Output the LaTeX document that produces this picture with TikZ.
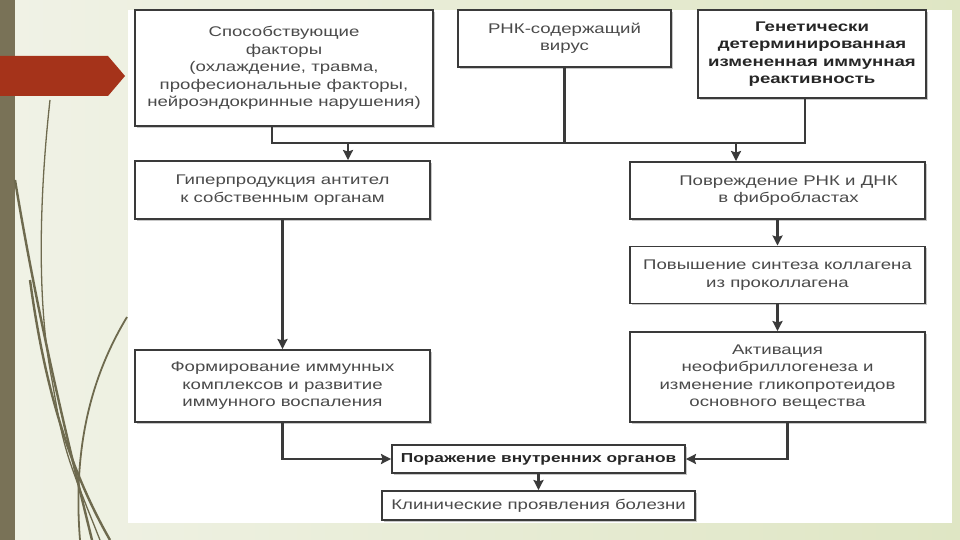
\documentclass[tikz,border=0pt]{standalone}
\usepackage{fontspec}
\newfontfamily\slidefont{Liberation Sans}[FakeStretch=1.33]
\usetikzlibrary{arrows.meta,shadows}
\definecolor{bgleft}{HTML}{F0F2E6}
\definecolor{bgright}{HTML}{DFE6C4}
\definecolor{stripe}{HTML}{797257}
\definecolor{tagred}{HTML}{A5331A}
\definecolor{deco}{HTML}{6E6A4E}
\definecolor{boxline}{HTML}{3A3A3A}
\definecolor{textgrey}{HTML}{4A4A4A}
\begin{document}
\begin{tikzpicture}[x=1pt, y=-1pt, >={Stealth[length=10pt,width=10pt,inset=1.5pt]},
    box/.style={draw=boxline, line width=1.9pt, fill=white, align=center, inner sep=2pt,
      text=textgrey, font=\slidefont\fontsize{14}{17.5}\selectfont,
      general shadow={fill=black!22, shadow xshift=1.8pt, shadow yshift=-1.8pt}},
    strong/.style={font=\slidefont\bfseries\fontsize{14}{17.5}\selectfont, text=black!85},
    link/.style={draw=boxline, line width=2.3pt},
    decoline/.style={draw=deco, line width=2.4pt}]
  \useasboundingbox (0,0) rectangle (960,540);

  % slide background
  \fill[left color=bgleft, right color=bgright] (0,0) rectangle (960,540);
  \fill[stripe] (0,0) rectangle (15,540);
  \draw[decoline, line width=1.3pt] (50,100) .. controls (40,190) and (36,300) .. (52,380) .. controls (64,450) .. (100,540);
  \draw[decoline] (15,180) .. controls (40,330) and (70,450) .. (92,540);
  \draw[decoline] (30,280) .. controls (45,390) and (70,470) .. (110,540);
  \draw[decoline, line width=1.8pt] (127,317) .. controls (95,370) and (72,440) .. (80,540);
  \fill[tagred] (0,56) -- (108,56) -- (125,76) -- (108,96) -- (0,96) -- cycle;
  \fill[white] (128,10) rectangle (952,523);

  % top row
  \node[box, minimum width=298, minimum height=116] (fac) at (284,68)
    {Способствующие\\факторы\\(охлаждение, травма,\\професиональные факторы,\\нейроэндокринные нарушения)};
  \node[box, minimum width=213, minimum height=57] (rna) at (564.5,38.5)
    {РНК-содержащий\\вирус};
  \node[box, strong, minimum width=228, minimum height=88] (gen) at (812,54)
    {Генетически\\детерминированная\\измененная иммунная\\реактивность};

  % left branch
  \node[box, minimum width=295, minimum height=58] (hyp) at (282.5,190)
    {Гиперпродукция антител\\к собственным органам};
  \node[box, minimum width=295, minimum height=72] (form) at (282.5,386)
    {Формирование иммунных\\комплексов и развитие\\иммунного воспаления};

  % right branch
  \node[box, minimum width=295, minimum height=57] (dmg) at (777.5,190.5)
    {\hspace{22pt}Повреждение РНК и ДНК\\\hspace{22pt}в фибробластах};
  \node[box, minimum width=295, minimum height=57] (syn) at (777.5,275)
    {Повышение синтеза коллагена\\из проколлагена};
  \node[box, minimum width=295, minimum height=90] (act) at (777.5,377)
    {Активация\\неофибриллогенеза и\\изменение гликопротеидов\\основного вещества};

  % bottom
  \node[box, strong, font=\slidefont\bfseries\fontsize{13}{16}\selectfont,
    minimum width=293, minimum height=28] (les) at (538.5,459)
    {Поражение внутренних органов};
  \node[box, minimum width=313, minimum height=29] (clin) at (538.5,505.5)
    {Клинические проявления болезни};

  \coordinate (busL) at (272,143);
  \coordinate (busR) at (805,143);
  \coordinate (tapL) at (348,143);
  \coordinate (tapR) at (736,143);

  \draw[link] (busL |- fac.south) -- (busL) -- (busR) -- (busR |- gen.south);
  \draw[link] (rna.south) -- (rna.south |- busL);
  \draw[link, ->] (tapL) -- (tapL |- hyp.north);
  \draw[link, ->] (tapR) -- (tapR |- dmg.north);
  \draw[link, ->] (hyp) -- (form);
  \draw[link, ->] (syn.north |- dmg.south) -- (syn.north);
  \draw[link, ->] (syn) -- (act);
  \draw[link, ->] (form.south) |- (les.west);
  \draw[link, ->] ([xshift=10pt]act.south) |- (les.east);
  \draw[link, ->] (les) -- (clin);
\end{tikzpicture}
\end{document}
